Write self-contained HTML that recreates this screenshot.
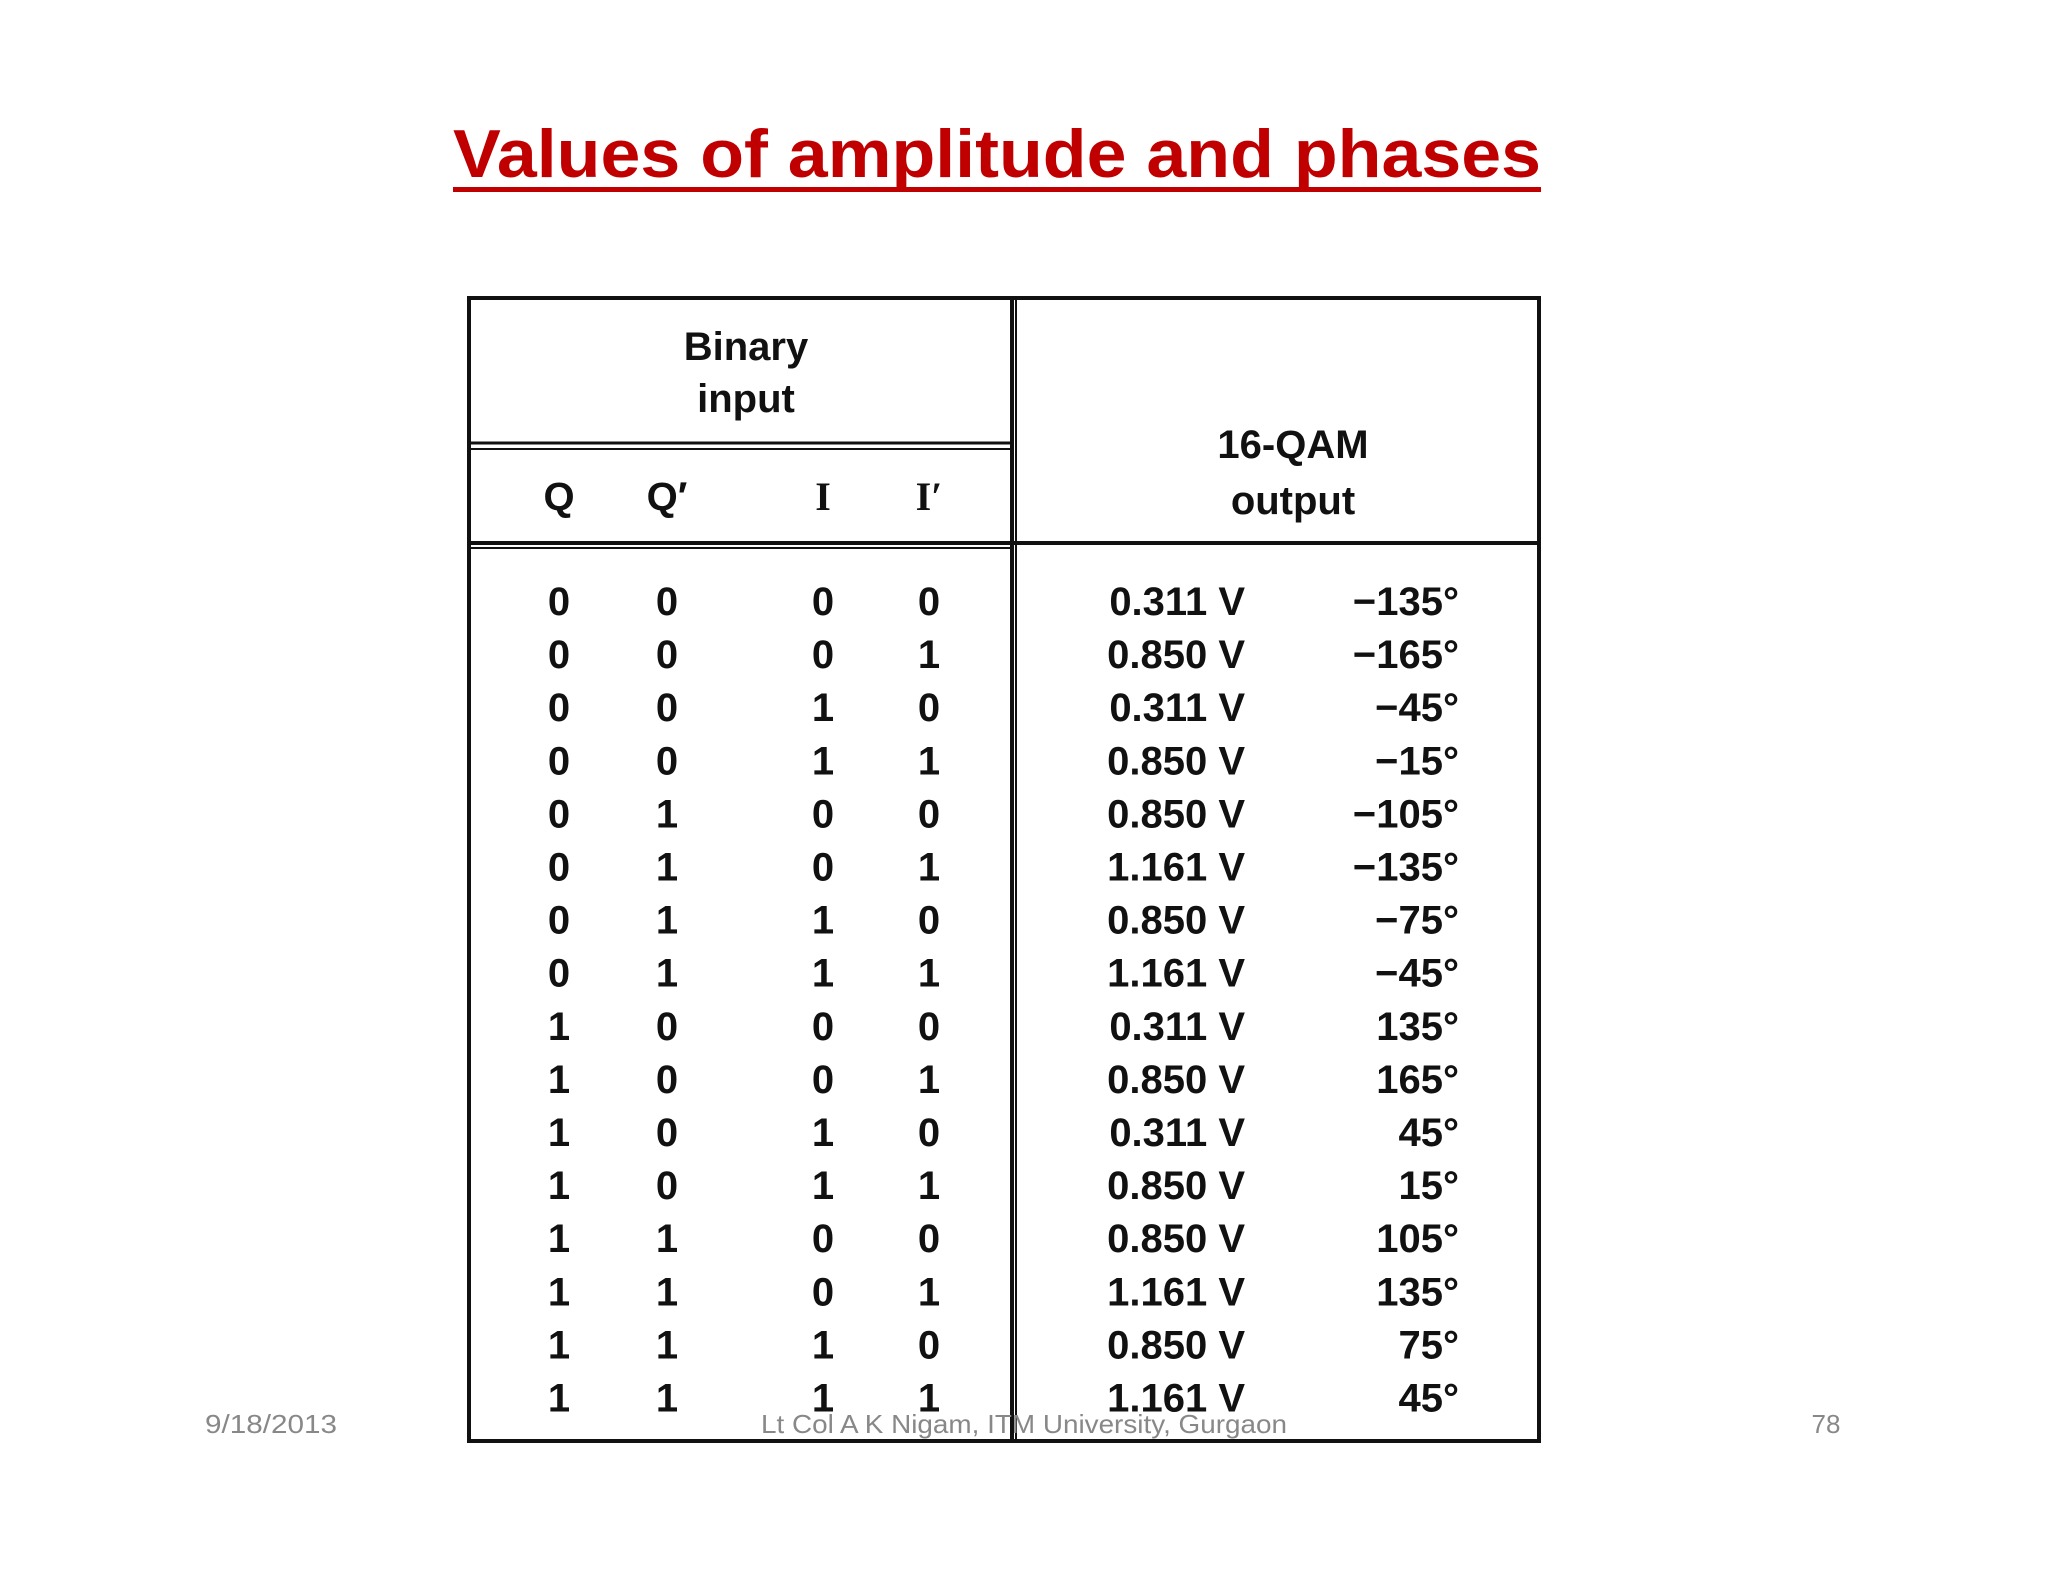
<!DOCTYPE html>
<html><head><meta charset="utf-8">
<style>
html,body{margin:0;padding:0;background:#fff;}
svg{display:block;}
</style></head>
<body>
<svg id="s" width="2048" height="1582" viewBox="0 0 2048 1582" xmlns="http://www.w3.org/2000/svg">
<text x="453" y="177" textLength="1088" lengthAdjust="spacingAndGlyphs" font-family="Liberation Sans, sans-serif" font-weight="bold" font-size="68" fill="#c00000">Values of amplitude and phases</text>
<rect x="453" y="187" width="1088" height="5" fill="#c00000"/>
<g fill="none" stroke="#111">
<rect x="469" y="298" width="1070" height="1143" stroke-width="4"/>
<line x1="1012" y1="298" x2="1012" y2="1441" stroke-width="4"/>
<line x1="1016" y1="298" x2="1016" y2="1441" stroke-width="2"/>
<line x1="469" y1="443" x2="1012" y2="443" stroke-width="3"/>
<line x1="469" y1="449" x2="1012" y2="449" stroke-width="2"/>
<line x1="469" y1="543" x2="1539" y2="543" stroke-width="4"/>
<line x1="469" y1="548" x2="1012" y2="548" stroke-width="2"/>
</g>
<g font-family="Liberation Sans, sans-serif" font-weight="bold" font-size="40" fill="#111" text-anchor="middle">
<text x="746" y="360">Binary</text>
<text x="746" y="412">input</text>
<text x="1293" y="458">16-QAM</text>
<text x="1293" y="514">output</text>
<text x="559" y="510">Q</text>
<text x="667" y="510">Q′</text>
<text x="823" y="510" font-family="Liberation Serif, serif">I</text>
<text x="929" y="510" font-family="Liberation Serif, serif">I′</text>
</g>
<g id="rows" font-family="Liberation Sans, sans-serif" font-weight="bold" font-size="40" fill="#111"></g>
<g font-family="Liberation Sans, sans-serif" font-size="26" fill="#888">
<text x="205" y="1433" textLength="132" lengthAdjust="spacingAndGlyphs">9/18/2013</text>
<text x="761" y="1433" textLength="526" lengthAdjust="spacingAndGlyphs">Lt Col A K Nigam, ITM University, Gurgaon</text>
<text x="1826" y="1433" text-anchor="middle">78</text>
</g>
</svg>
<script>
const qBits=[0,0,0,0,0,0,0,0,1,1,1,1,1,1,1,1];
const qpBits=[0,0,0,0,1,1,1,1,0,0,0,0,1,1,1,1];
const iBits=[0,0,1,1,0,0,1,1,0,0,1,1,0,0,1,1];
const ipBits=[0,1,0,1,0,1,0,1,0,1,0,1,0,1,0,1];
const amplitudes=["0.311 V","0.850 V","0.311 V","0.850 V","0.850 V","1.161 V","0.850 V","1.161 V","0.311 V","0.850 V","0.311 V","0.850 V","0.850 V","1.161 V","0.850 V","1.161 V"];
const phases=["−135°","−165°","−45°","−15°","−105°","−135°","−75°","−45°","135°","165°","45°","15°","105°","135°","75°","45°"];
const g=document.getElementById('rows');
const NS="http://www.w3.org/2000/svg";
function rowY(i){return 615+i*53.1;}
function txt(x,y,s,anchor,name){
  const t=document.createElementNS(NS,'text');
  t.setAttribute('x',x);t.setAttribute('y',y);t.setAttribute('text-anchor',anchor);
  t.textContent=s;
  
  
  g.appendChild(t);
}
for(let i=0;i<qBits.length;i++){
  const y=rowY(i);
  txt(559,y,qBits[i],'middle','cell-q');
  txt(667,y,qpBits[i],'middle','cell-q-prime');
  txt(823,y,iBits[i],'middle','cell-i');
  txt(929,y,ipBits[i],'middle','cell-i-prime');
  txt(1245,y,amplitudes[i],'end','cell-amplitude');
  txt(1459,y,phases[i],'end','cell-phase');
}
</script>
</body></html>
